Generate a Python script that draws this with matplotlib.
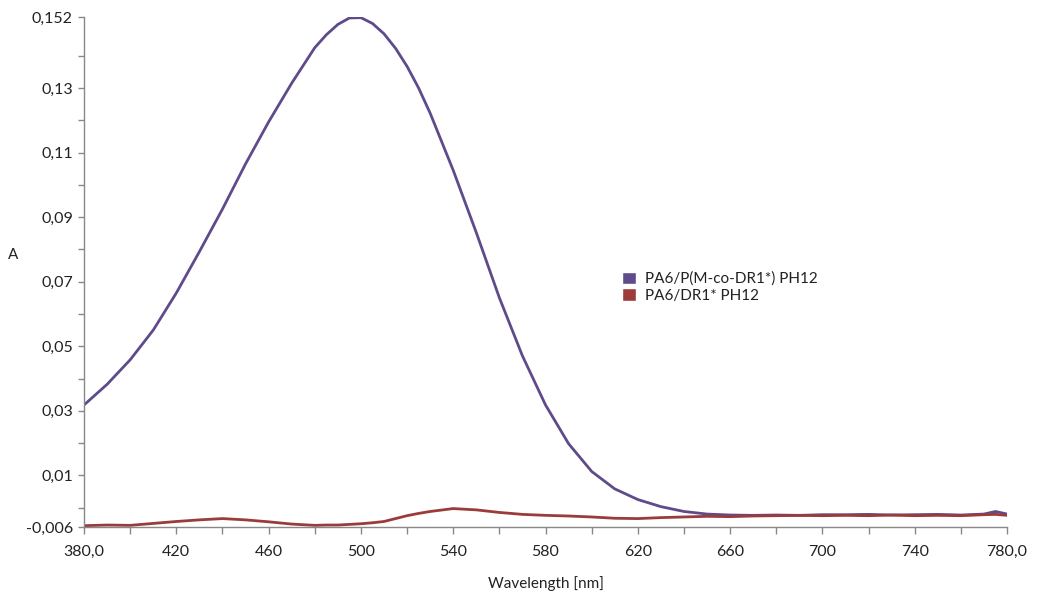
import matplotlib.pyplot as plt
from matplotlib.patches import Patch
from matplotlib.ticker import FixedLocator, FuncFormatter

# wavelength grid [nm]
wl = [380, 390, 400, 410, 420, 430, 440, 450, 460, 470, 480, 485, 490, 495,
      500, 505, 510, 515, 520, 525, 530, 540, 550, 560, 570, 580, 590, 600,
      610, 620, 630, 640, 650, 660, 670, 680, 690, 700, 710, 720, 730, 740,
      750, 760, 770, 775, 780]

# absorbance, PA6/P(M-co-DR1*) PH12
a_copol = [0.0318, 0.0382, 0.0458, 0.0550, 0.0665, 0.0793, 0.0925, 0.1065,
           0.1195, 0.1315, 0.1425, 0.1465, 0.1497, 0.1517, 0.1518, 0.1500,
           0.1468, 0.1423, 0.1367, 0.1300, 0.1222, 0.1045, 0.0852, 0.0650,
           0.0470, 0.0318, 0.0198, 0.0112, 0.0058, 0.0025, 0.0003, -0.0012,
           -0.0020, -0.0023, -0.0024, -0.0023, -0.0024, -0.0022, -0.0022,
           -0.0021, -0.0023, -0.0022, -0.0021, -0.0023, -0.0020, -0.0012,
           -0.0020]

# absorbance, PA6/DR1* PH12
a_dr1 = [-0.0056, -0.0054, -0.0055, -0.0049, -0.0043, -0.0038, -0.0034,
         -0.0038, -0.0044, -0.0051, -0.0055, -0.0054, -0.0054, -0.0052,
         -0.0050, -0.0047, -0.0043, -0.0034, -0.0025, -0.0018, -0.0012,
         -0.0003, -0.0007, -0.0015, -0.0021, -0.0024, -0.0026, -0.0029,
         -0.0033, -0.0034, -0.0031, -0.0029, -0.0027, -0.0028, -0.0026,
         -0.0025, -0.0024, -0.0025, -0.0024, -0.0025, -0.0023, -0.0025,
         -0.0024, -0.0025, -0.0022, -0.0021, -0.0024]

names = ['PA6/P(M-co-DR1*) PH12', 'PA6/DR1* PH12']
colors = ['#5F4B8B', '#9B3B3B']

y_major = [-0.006, 0.01, 0.03, 0.05, 0.07, 0.09, 0.11, 0.13, 0.152]
y_minor = [0.0, 0.02, 0.04, 0.06, 0.08, 0.10, 0.12, 0.14]
x_major = [380, 420, 460, 500, 540, 580, 620, 660, 700, 740, 780]
x_minor = [400, 440, 480, 520, 560, 600, 640, 680, 720, 760]

plt.rcParams['font.family'] = ['Lato', 'DejaVu Sans']
plt.rcParams['font.size'] = 11

fig = plt.figure(figsize=(10.4, 5.97), dpi=100)
ax = fig.add_axes([0.0808, 0.1173, 0.8875, 0.8542])

ax.plot(wl, a_copol, color=colors[0], linewidth=2.0)
ax.plot(wl, a_dr1, color=colors[1], linewidth=2.0)

ax.set_xlim(380, 780)
ax.set_ylim(-0.006, 0.152)

def yfmt(v, pos):
    s = ('%.3f' % v).rstrip('0')
    return s.replace('.', ',')

def xfmt(v, pos):
    if v in (380, 780):
        return ('%.1f' % v).replace('.', ',')
    return '%d' % v

ax.yaxis.set_major_locator(FixedLocator(y_major))
ax.yaxis.set_minor_locator(FixedLocator(y_minor))
ax.yaxis.set_major_formatter(FuncFormatter(yfmt))
ax.xaxis.set_major_locator(FixedLocator(x_major))
ax.xaxis.set_minor_locator(FixedLocator(x_minor))
ax.xaxis.set_major_formatter(FuncFormatter(xfmt))

for side in ['top', 'right']:
    ax.spines[side].set_visible(False)
for side in ['left', 'bottom']:
    ax.spines[side].set_color('#888888')
    ax.spines[side].set_linewidth(1.0)

ax.tick_params(which='both', direction='out', color='#888888', width=1.0,
               labelcolor='#222222', labelsize=11.5)
ax.tick_params(axis='y', which='both', length=4, pad=4)
ax.tick_params(axis='x', which='both', length=5, pad=8)

ax.set_xlabel('Wavelength [nm]', fontsize=11, color='#222222', labelpad=12)
ax.set_ylabel('A', fontsize=11, color='#222222', rotation=0, labelpad=0)
ax.yaxis.set_label_coords(-0.077, 0.52)

handles = [Patch(facecolor=c, edgecolor='white') for c in colors]
ax.legend(handles, names, loc='center left', bbox_to_anchor=(0.568, 0.47),
          frameon=False, fontsize=11, handlelength=0.9, handleheight=0.9,
          handletextpad=0.6, labelspacing=0.15, labelcolor='#222222')

fig.savefig('out.png', dpi=100)
